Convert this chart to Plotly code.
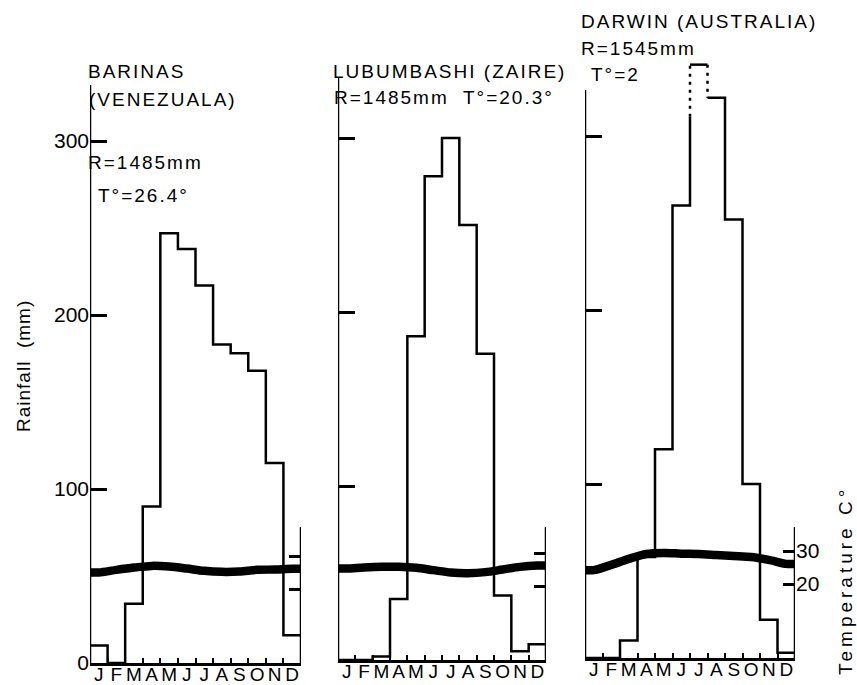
import plotly.graph_objects as go

# ---- data -------------------------------------------------------------
months = ["J", "F", "M", "A", "M", "J", "J", "A", "S", "O", "N", "D"]

barinas_rain = [10, 0, 34, 90, 247, 238, 217, 183, 178, 168, 115, 16]
barinas_temp = [25.0, 25.8, 26.5, 27.0, 26.8, 26.2, 25.5, 25.2, 25.3, 25.8, 25.9, 26.1]

lubumbashi_rain = [0, 0, 2, 35, 186, 278, 300, 250, 176, 37, 5, 9]
lubumbashi_temp = [25.3, 25.6, 25.8, 25.8, 25.5, 24.8, 24.1, 23.9, 24.2, 25.0, 25.8, 26.2]

darwin_rain = [0, 0, 10, 58, 120, 260, 341, 322, 252, 100, 22, 3]
darwin_temp = [24.2, 25.8, 27.6, 29.1, 29.4, 29.2, 29.1, 28.8, 28.5, 28.2, 27.3, 26.1]
darwin_break = 311      # July total runs off the scale: dotted above this
darwin_peak = 6         # index of the off-scale month

rain_ticks = [0, 100, 200, 300]
temp_ticks = [20, 30]

# ---- page geometry (pixels) --------------------------------------------
W, H = 857, 685
RAIN_PX = 1.74      # px per mm of rainfall
TEMP_PX = 3.3       # px per degree C
TEMP_OFFSET = 8     # px between the baseline and 0 degrees C
TOP = 40            # px of the top of every plotting area
TEMP_AXIS_TOP = 527

FONT = "Liberation Sans, Arial, Helvetica, sans-serif"
LW = 2.5


def fx(px):
    return px / W


def fy(py):
    return 1 - py / H


panels = [
    dict(x0=90, x1=301, base=663, axis_top=85,
         rain=barinas_rain, temp=barinas_temp, labels=True),
    dict(x0=338, x1=546, base=660, axis_top=78,
         rain=lubumbashi_rain, temp=lubumbashi_temp, labels=False),
    dict(x0=585, x1=795, base=658, axis_top=90,
         rain=darwin_rain, temp=darwin_temp, labels=False),
]


def step_path(vals, start=0):
    xs, ys = [], []
    for i, v in enumerate(vals):
        xs += [start + i, start + i + 1]
        ys += [v, v]
    return xs, ys


fig = go.Figure()
shapes = []
layout = {}

for k, p in enumerate(panels):
    n = k + 1
    xa = "x" if n == 1 else f"x{n}"
    ya = "y" if n == 1 else f"y{n}"
    ta_num = n + 3
    ta = f"y{ta_num}"

    height_px = p["base"] - TOP
    rain_top = height_px / RAIN_PX
    temp_lo = -TEMP_OFFSET / TEMP_PX
    temp_hi = (height_px - TEMP_OFFSET) / TEMP_PX

    # rainfall steps
    if n == 3:
        pk = darwin_peak
        rv = p["rain"]
        xs, ys = step_path(rv[:pk])
        xs += [pk, None, pk, pk + 1, None]
        ys += [darwin_break, None, rv[pk], rv[pk], None]
        xr, yr = step_path(rv[pk + 1:], start=pk + 1)
        xs += xr
        ys += yr
        fig.add_trace(go.Scatter(x=xs, y=ys, xaxis=xa, yaxis=ya, mode="lines",
                                 line=dict(color="black", width=LW),
                                 connectgaps=False, hoverinfo="skip"))
        fig.add_trace(go.Scatter(x=[pk, pk, None, pk + 1, pk + 1],
                                 y=[darwin_break, rv[pk], None, rv[pk], rv[pk + 1]],
                                 xaxis=xa, yaxis=ya, mode="lines",
                                 line=dict(color="black", width=LW, dash="3px,5px"),
                                 connectgaps=False, hoverinfo="skip"))
    else:
        xs, ys = step_path(p["rain"])
        fig.add_trace(go.Scatter(x=xs, y=ys, xaxis=xa, yaxis=ya, mode="lines",
                                 line=dict(color="black", width=LW),
                                 hoverinfo="skip"))

    # mean monthly temperature
    tx = [0] + [i + 0.5 for i in range(12)] + [12]
    ty = [p["temp"][0]] + list(p["temp"]) + [p["temp"][-1]]
    fig.add_trace(go.Scatter(x=tx, y=ty, xaxis=xa, yaxis=ta, mode="lines",
                             line=dict(color="black", width=8.5, shape="spline",
                                       smoothing=0.8),
                             hoverinfo="skip"))

    dom_x = [fx(p["x0"]), fx(p["x1"])]
    dom_y = [fy(p["base"]), fy(TOP)]

    layout["xaxis" if n == 1 else f"xaxis{n}"] = dict(
        domain=dom_x, anchor=ya, range=[0, 12], showgrid=False, zeroline=False,
        showline=True, linecolor="black", linewidth=LW, automargin=False,
        tickmode="array", tickvals=[i + 0.5 for i in range(12)], ticktext=months,
        ticks="", tickangle=0, ticklabelstandoff=-8,
        tickfont=dict(family=FONT, size=19, color="black"),
        minor=dict(tickmode="array", tickvals=list(range(1, 12)), ticks="inside",
                   ticklen=5, tickwidth=1.5, tickcolor="black", showgrid=False),
    )
    layout["yaxis" if n == 1 else f"yaxis{n}"] = dict(
        domain=dom_y, anchor=xa, range=[0, rain_top], showgrid=False,
        zeroline=False, showline=False, automargin=False,
        tickmode="array", tickvals=rain_ticks, ticks="inside", ticklen=17,
        tickwidth=LW, tickcolor="black", showticklabels=p["labels"],
        tickfont=dict(family=FONT, size=21, color="black"),
    )
    layout[f"yaxis{ta_num}"] = dict(
        overlaying=ya, anchor=xa, side="right", range=[temp_lo, temp_hi],
        showgrid=False, zeroline=False, showline=False, automargin=False,
        tickmode="array", tickvals=temp_ticks, ticks="inside", ticklen=12,
        tickwidth=LW, tickcolor="black", showticklabels=(n == 3),
        tickfont=dict(family=FONT, size=21, color="black"),
    )

    # rainfall axis line (rises above the last tick)
    shapes.append(dict(type="line", xref=xa, yref=ya, x0=0, x1=0, y0=0,
                       y1=(p["base"] - p["axis_top"]) / RAIN_PX,
                       line=dict(color="black", width=LW)))
    # short temperature axis line on the right
    shapes.append(dict(type="line", xref=xa, yref=ya, x0=12, x1=12, y0=0,
                       y1=(p["base"] - TEMP_AXIS_TOP) / RAIN_PX,
                       line=dict(color="black", width=LW)))


def label(text, left, cy, size=19, spacing=2):
    return dict(
        text=f'<span style="letter-spacing:{spacing}px">{text}</span>',
        xref="paper", yref="paper", x=fx(left), y=fy(cy),
        xanchor="left", yanchor="middle", showarrow=False,
        font=dict(family=FONT, size=size, color="black"),
    )


annotations = [
    label("BARINAS", 86, 72),
    label("(VENEZUALA)", 87, 99),
    label("R=1485mm", 86, 163),
    label("T°=26.4°", 96, 195),
    label("LUBUMBASHI (ZAIRE)", 331, 71),
    label("R=1485mm  T°=20.3°", 332, 98),
    label("DARWIN (AUSTRALIA)", 579, 21),
    label("R=1545mm", 579, 49),
    label("T°=2", 589, 75),
    dict(text='<span style="letter-spacing:1px">Rainfall\u00a0\u00a0(mm)</span>',
         xref="paper", yref="paper", x=fx(24), y=fy(366), textangle=-90,
         xanchor="center", yanchor="middle", showarrow=False,
         font=dict(family=FONT, size=19, color="black")),
    dict(text='<span style="letter-spacing:4px">Temperature C°</span>',
         xref="paper", yref="paper", x=fx(845), y=fy(581), textangle=-90,
         xanchor="center", yanchor="middle", showarrow=False,
         font=dict(family=FONT, size=19, color="black")),
]

fig.update_layout(
    width=W, height=H, margin=dict(l=0, r=0, t=0, b=0, autoexpand=False),
    paper_bgcolor="white", plot_bgcolor="rgba(0,0,0,0)",
    showlegend=False, shapes=shapes, annotations=annotations,
    **layout,
)

fig.write_html("out.html")
